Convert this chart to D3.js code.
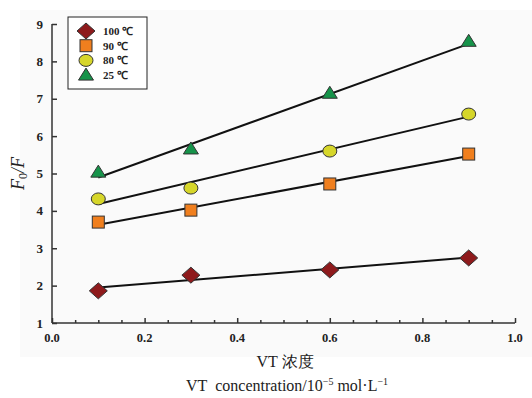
<!DOCTYPE html>
<html>
<head>
<meta charset="utf-8">
<script src="https://cdn.jsdelivr.net/npm/d3@7"></script>
<style>
  body { margin: 0; background: #fff; }
  text { font-family: "Liberation Serif", "Times New Roman", serif; }
</style>
</head>
<body>
<div id="chart"></div>
<script>
const width = 532, height = 398;

// concentration (10^-5 mol/L)
const concentrations = [0.1, 0.3, 0.6, 0.9];
const series100 = [1.86, 2.28, 2.42, 2.74];
const series90 = [3.70, 4.02, 4.72, 5.52];
const series80 = [4.32, 4.61, 5.60, 6.59];
const series25 = [5.01, 5.63, 7.12, 8.51];
const seriesNames = ["100 ℃", "90 ℃", "80 ℃", "25 ℃"];
const xTicks = [0, 0.2, 0.4, 0.6, 0.8, 1.0];
const yTicks = [1, 2, 3, 4, 5, 6, 7, 8, 9];

const series = [
  {name: seriesNames[0], values: series100, shape: "diamond", fill: "#8e1a1c"},
  {name: seriesNames[1], values: series90, shape: "square", fill: "#f07f1e"},
  {name: seriesNames[2], values: series80, shape: "circle", fill: "#d6d62a"},
  {name: seriesNames[3], values: series25, shape: "triangle", fill: "#16934a"}
];

const margin = {top: 24, right: 17, bottom: 75, left: 52};

const x = d3.scaleLinear().domain([0, 1]).range([margin.left, width - margin.right]);
const y = d3.scaleLinear().domain([1, 9]).range([height - margin.bottom, margin.top]);

const svg = d3.select("#chart").append("svg")
    .attr("width", width)
    .attr("height", height);

// faint grey panel behind the plot
svg.append("rect")
    .attr("x", 20).attr("y", 10)
    .attr("width", width - 20).attr("height", 347)
    .attr("fill", "#fafafa");

// x axis with inward ticks
const xAxis = svg.append("g")
    .attr("transform", `translate(0,${y(1)})`)
    .call(d3.axisBottom(x).ticks(25).tickSize(-4).tickFormat(""));
xAxis.selectAll(".tick line")
    .attr("y2", d => (Math.abs(d * 5 - Math.round(d * 5)) < 1e-6) ? -5 : -3);
xAxis.select(".domain").attr("d", `M${x(0)},0H${x(1)}`);
svg.append("g").selectAll("text")
    .data(xTicks)
    .join("text")
    .attr("x", d => x(d))
    .attr("y", y(1) + 19)
    .attr("text-anchor", "middle")
    .attr("font-size", 12.5)
    .attr("font-weight", "bold")
    .attr("fill", "#222")
    .text(d => d.toFixed(1));

// y axis with inward ticks
const yAxis = svg.append("g")
    .attr("transform", `translate(${x(0)},0)`)
    .call(d3.axisLeft(y).tickValues(yTicks).tickSize(-5).tickFormat(""));
yAxis.select(".domain").attr("d", `M0,${y(1)}V${y(9)}`);
svg.append("g").selectAll("text")
    .data(yTicks)
    .join("text")
    .attr("x", x(0) - 9)
    .attr("y", d => y(d) + 4.5)
    .attr("text-anchor", "end")
    .attr("font-size", 13)
    .attr("font-weight", "bold")
    .attr("fill", "#222")
    .text(d => d);

svg.selectAll(".domain, .tick line")
    .attr("stroke", "#333")
    .attr("stroke-width", 1.5);

// least-squares fit lines
function fit(xs, ys) {
  const mx = d3.mean(xs), my = d3.mean(ys);
  const sxy = d3.sum(xs, (v, i) => (v - mx) * (ys[i] - my));
  const sxx = d3.sum(xs, v => (v - mx) * (v - mx));
  const b = sxy / sxx;
  return v => my + b * (v - mx);
}

const line = d3.line().x(d => x(d[0])).y(d => y(d[1]));
series.forEach(s => {
  const f = fit(concentrations, s.values);
  const ends = [concentrations[0], concentrations[concentrations.length - 1]];
  svg.append("path")
      .attr("d", line(ends.map(c => [c, f(c)])))
      .attr("fill", "none")
      .attr("stroke", "#111")
      .attr("stroke-width", 2);
});

// marker shapes
function marker(g, shape, fill) {
  let el;
  if (shape === "diamond") {
    el = g.append("path").attr("d", "M0,-8L9,0L0,8L-9,0Z");
  } else if (shape === "square") {
    el = g.append("rect").attr("x", -6).attr("y", -6).attr("width", 12).attr("height", 12);
  } else if (shape === "circle") {
    el = g.append("ellipse").attr("rx", 7).attr("ry", 6);
  } else {
    el = g.append("path").attr("d", "M0,-7L7.5,5L-7.5,5Z");
  }
  el.attr("fill", fill).attr("stroke", "#333").attr("stroke-width", 1);
}

series.forEach(s => {
  const pts = svg.append("g").selectAll("g")
      .data(s.values.map((v, i) => [concentrations[i], v]))
      .join("g")
      .attr("transform", d => `translate(${x(d[0])},${y(d[1]) + (s.shape === "triangle" ? -1 : 0)})`);
  pts.each(function() { marker(d3.select(this), s.shape, s.fill); });
});

// legend
const legend = svg.append("g").attr("transform", "translate(68,17)");
legend.append("rect")
    .attr("width", 79).attr("height", 72)
    .attr("fill", "#fff")
    .attr("stroke", "#222")
    .attr("stroke-width", 1);
series.forEach((s, i) => {
  const row = legend.append("g").attr("transform", `translate(18,${14 + i * 14.7})`);
  marker(row, s.shape, s.fill);
  row.append("text")
      .attr("x", 17).attr("y", 4)
      .attr("font-size", 11)
      .attr("font-weight", "bold")
      .attr("fill", "#222")
      .text(s.name);
});

// axis titles
const yTitle = svg.append("text")
    .attr("transform", `translate(24,${y(5)}) rotate(-90)`)
    .attr("text-anchor", "middle")
    .attr("font-size", 18)
    .attr("font-style", "italic")
    .attr("fill", "#222");
yTitle.append("tspan").text("F");
yTitle.append("tspan").attr("font-size", 12).attr("dy", 3).attr("font-style", "normal").text("0");
yTitle.append("tspan").attr("dy", -3).text("/F");

svg.append("text")
    .attr("x", 285).attr("y", 367)
    .attr("text-anchor", "middle")
    .attr("font-size", 16)
    .attr("fill", "#222")
    .text("VT 浓度");

const xTitle = svg.append("text")
    .attr("x", 287).attr("y", 391)
    .attr("text-anchor", "middle")
    .attr("font-size", 16)
    .attr("fill", "#222");
xTitle.append("tspan").text("VT\u00a0\u00a0concentration/10");
xTitle.append("tspan").attr("font-size", 10).attr("dy", -6).text("−5");
xTitle.append("tspan").attr("dy", 6).text("\u00a0mol·L");
xTitle.append("tspan").attr("font-size", 10).attr("dy", -6).text("−1");
</script>
</body>
</html>
